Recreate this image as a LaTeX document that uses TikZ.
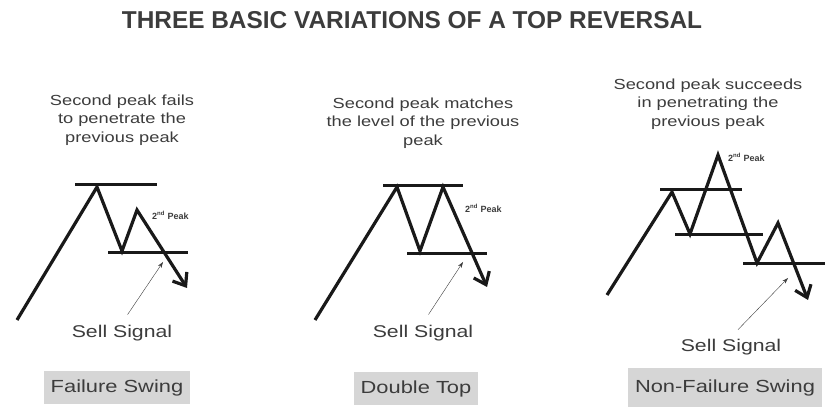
\documentclass[tikz,border=0pt]{standalone}
\usepackage{fontspec}
\setmainfont{Liberation Sans}
\newfontfamily\widefont[FakeStretch=1.25]{Liberation Sans}
\definecolor{inkgray}{RGB}{60,60,60}
\definecolor{boxgray}{RGB}{214,214,214}
\usetikzlibrary{arrows.meta, positioning}

\begin{document}
\begin{tikzpicture}[x=1pt, y=-1pt,
    note/.style={font=\widefont\fontsize{14.6}{18.6}\selectfont, text=inkgray,
                 align=center, inner sep=0pt},
    signal/.style={font=\widefont\fontsize{17}{20}\selectfont, text=inkgray, inner sep=2pt},
    namebox/.style={fill=boxgray, font=\widefont\fontsize{17.5}{20}\selectfont,
                    text=inkgray, minimum height=33pt, inner xsep=7pt},
    peaklbl/.style={font=\bfseries\fontsize{9}{10}\selectfont, text=inkgray,
                    inner sep=0pt, anchor=west},
    price/.style={line width=3.2pt, black!90},
    level/.style={line width=3pt, black!90},
    trend/.style={price, -{Straight Barb[length=11pt,width=17pt]}},
    sig/.style={-{Stealth[length=6pt,width=4pt]}, thin, inkgray, shorten <=10pt}
  ]
  \useasboundingbox (0,0) rectangle (825,411);

  \node[font=\bfseries\fontsize{24.4}{28}\selectfont, text=inkgray] (title) at (412,20)
    {THREE BASIC VARIATIONS OF A TOP REVERSAL};

  % failure swing
  \node[note] (desc1) at (122,120) {Second peak fails\\to penetrate the\\previous peak};
  \draw[level] (75,185) -- (157,185);
  \draw[level] (108,253) -- (188,253);
  \draw[trend] (17,320) -- (97,187) -- (122,251) -- (137,210) -- (187,288);
  \node[peaklbl] (pk1) at (152,215) {2\textsuperscript{nd} Peak};
  \node[signal] (sell1) at (122,333) {Sell Signal};
  \coordinate (hit1) at (163,262);
  \draw[sig] (sell1.north) -- (hit1);
  \node[namebox] (swing1) at (117,388) {Failure Swing};

  % double top
  \node[note] (desc2) at (423,123) {Second peak matches\\the level of the previous\\peak};
  \draw[level] (383,186) -- (463,186);
  \draw[level] (407,254) -- (487,254);
  \draw[trend] (315,320) -- (397,187) -- (420,251) -- (443,187) -- (487,287);
  \node[peaklbl] (pk2) at (465,208) {2\textsuperscript{nd} Peak};
  \node[signal] (sell2) at (423,333) {Sell Signal};
  \coordinate (hit2) at (463,262);
  \draw[sig] (sell2.north) -- (hit2);
  \node[namebox] (swing2) at (416,389) {Double Top};

  % non-failure swing
  \node[note] (desc3) at (708,104) {Second peak succeeds\\in penetrating the\\previous peak};
  \draw[level] (660,190) -- (742,190);
  \draw[level] (675,235) -- (763,235);
  \draw[level] (743,264) -- (825,264);
  \draw[trend] (607,295) -- (672,192) -- (690,234) -- (718,155) -- (757,263)
    -- (778,223) -- (808,300);
  \node[peaklbl] (pk3) at (728,157) {2\textsuperscript{nd} Peak};
  \node[signal] (sell3) at (731,347) {Sell Signal};
  \coordinate (hit3) at (788,278);
  \draw[sig] (sell3.north) -- (hit3);
  \node[namebox, minimum height=39pt] (swing3) at (725,388) {Non-Failure Swing};
\end{tikzpicture}
\end{document}
